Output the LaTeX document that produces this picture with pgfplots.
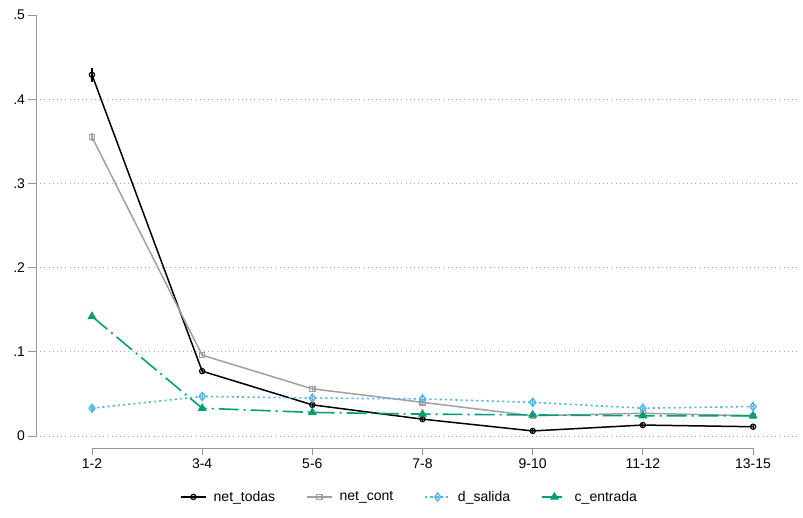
\documentclass[border=0pt]{standalone}
\usepackage{fontspec}
\setmainfont{Liberation Sans}
\usepackage{pgfplots}
\pgfplotsset{compat=1.18}
\definecolor{cgray}{RGB}{160,160,160}
\definecolor{cblue}{RGB}{86,180,233}
\definecolor{cgreen}{RGB}{0,158,115}
\definecolor{axgray}{RGB}{150,150,150}
\begin{document}
\begin{tikzpicture}
\path[use as bounding box] (0pt,0pt) rectangle (803pt,518pt);
\begin{axis}[
  at={(36pt,70pt)}, anchor=south west,
  scale only axis, width=764pt, height=433pt,
  xmin=-0.508, xmax=6.426, ymin=-0.01425, ymax=0.5,
  axis y line=left, axis x line=bottom,
  axis line style={draw=none},
  xtick={0,1,2,3,4,5,6},
  xticklabels={1-2,3-4,5-6,7-8,9-10,11-12,13-15},
  ytick={0,0.1,0.2,0.3,0.4},
  yticklabels={0,.1,.2,.3,.4},
  extra y ticks={0.5}, extra y tick labels={.5},
  extra y tick style={grid=none},
  ymajorgrids,
  major grid style={draw=black!35, line width=0.6pt, dash pattern=on 0.8pt off 3.4pt},
  tick align=outside, major tick length=7.5pt,
  tick style={draw=axgray, line width=0.8pt},
  ticklabel style={font=\fontsize{14}{16}\selectfont},
  /pgf/number format/assume math mode=true,
  clip=false,
  legend columns=4,
  legend style={at={(0.489,-0.113)}, anchor=center, draw=none, fill=none,
    font=\fontsize{14}{16}\selectfont,
    /tikz/every even column/.append style={column sep=29pt},
    /tikz/every odd column/.append style={column sep=5pt}},
  legend image code/.code={\draw[mark repeat=2,mark phase=2] plot coordinates {(0pt,0pt) (12.5pt,0pt) (25pt,0pt)};},
  error bars/error mark=none,
]
\draw[axgray, line width=0.8pt] (axis cs:0,-0.01425) -- (axis cs:6,-0.01425);
\draw[axgray, line width=0.8pt] (axis cs:-0.508,0) -- (axis cs:-0.508,0.5);
\addplot[black, line width=1.5pt, mark=o, mark size=2.6pt, mark options={solid, line width=1.2pt},
  error bars/.cd, y dir=both, y explicit, error bar style={line width=1.1pt}]
  coordinates {(0,0.429) +- (0,0.008) (1,0.077) +- (0,0.003) (2,0.037) +- (0,0.003) (3,0.020) +- (0,0.003) (4,0.006) +- (0,0.003) (5,0.013) +- (0,0.003) (6,0.011) +- (0,0.003)};
\addlegendentry{net\_todas}
\addplot[cgray, line width=1.5pt, mark=square, mark size=2.6pt, mark options={solid, line width=1.2pt},
  error bars/.cd, y dir=both, y explicit, error bar style={line width=1.1pt}]
  coordinates {(0,0.355) +- (0,0.005) (1,0.096) +- (0,0.003) (2,0.056) +- (0,0.003) (3,0.040) +- (0,0.003) (4,0.024) +- (0,0.003) (5,0.027) +- (0,0.003) (6,0.024) +- (0,0.003)};
\addlegendentry{net\_cont}
\addplot[cblue, line width=1.6pt, dash pattern=on 2.2pt off 3pt, mark=diamond, mark size=4pt, mark options={solid, line width=1.4pt},
  error bars/.cd, y dir=both, y explicit, error bar style={line width=1.1pt, solid}]
  coordinates {(0,0.033) +- (0,0.003) (1,0.047) +- (0,0.003) (2,0.045) +- (0,0.003) (3,0.044) +- (0,0.003) (4,0.040) +- (0,0.003) (5,0.033) +- (0,0.003) (6,0.035) +- (0,0.003)};
\addlegendentry{d\_salida}
\addplot[cgreen, line width=1.6pt, dash pattern=on 20pt off 5pt on 2pt off 5pt, mark=triangle*, mark size=3.6pt, mark options={solid},
  error bars/.cd, y dir=both, y explicit, error bar style={line width=1.1pt, solid}]
  coordinates {(0,0.142) +- (0,0.003) (1,0.033) +- (0,0.003) (2,0.028) +- (0,0.003) (3,0.026) +- (0,0.003) (4,0.025) +- (0,0.003) (5,0.024) +- (0,0.003) (6,0.024) +- (0,0.003)};
\addlegendentry{c\_entrada}
\end{axis}
\end{tikzpicture}
\end{document}
